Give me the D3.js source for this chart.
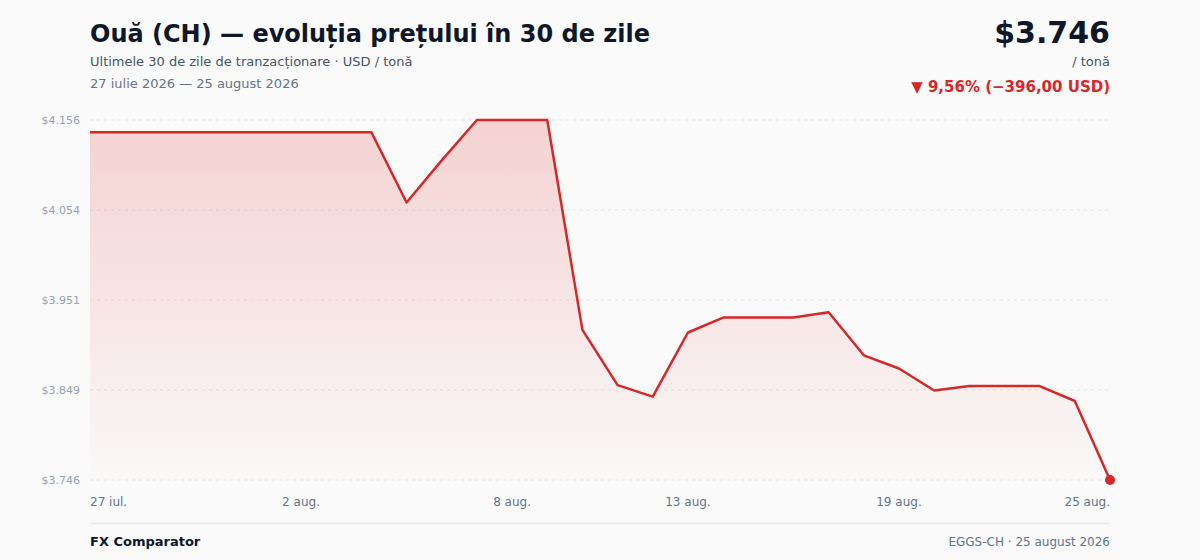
<!DOCTYPE html>
<html>
<head>
<meta charset="utf-8">
<script src="https://cdn.jsdelivr.net/npm/d3@7"></script>
<style>
  html, body { margin: 0; padding: 0; background: #fafafa; }
  svg { display: block; font-family: "DejaVu Sans", sans-serif; }
</style>
</head>
<body>
<svg id="chart" width="1200" height="560"></svg>
<script>
// 30 zile de tranzactionare, 27 iul - 25 aug 2026
var days = d3.range(30).map(function(i) { return new Date(2026, 6, 27 + i); });
var prices = [4142, 4142, 4142, 4142, 4142, 4142, 4142, 4142, 4142, 4062,
              4110, 4156, 4156, 4156, 3917, 3854, 3841, 3914, 3931, 3931,
              3931, 3937, 3888, 3873, 3848, 3853, 3853, 3853, 3836, 3746];
var yTicks = [3746, 3848.5, 3951, 4053.5, 4156];
var xTickIdx = [0, 6, 12, 17, 23, 29];
var luni = ["ian.", "feb.", "mar.", "apr.", "mai", "iun.", "iul.", "aug.", "sept.", "oct.", "nov.", "dec."];

var svg = d3.select("#chart");
var margin = { top: 120, right: 90, bottom: 80, left: 90 };
var width = 1200, height = 560;

var x = d3.scaleLinear().domain([0, days.length - 1]).range([margin.left, width - margin.right]);
var y = d3.scaleLinear().domain([3746, 4156]).range([height - margin.bottom, margin.top]);

var fmt = function(v) { return "$" + d3.format(",.0f")(v).replace(/,/g, "."); };

var defs = svg.append("defs");
var grad = defs.append("linearGradient")
    .attr("id", "areaGrad")
    .attr("x1", 0).attr("y1", 0).attr("x2", 0).attr("y2", 1);
grad.append("stop").attr("offset", "0%").attr("stop-color", "#e03131").attr("stop-opacity", 0.2);
grad.append("stop").attr("offset", "100%").attr("stop-color", "#e03131").attr("stop-opacity", 0.01);

// grid + y labels
var gy = svg.append("g");
gy.selectAll("line")
  .data(yTicks)
  .enter().append("line")
    .attr("x1", x(0)).attr("x2", x(days.length - 1))
    .attr("y1", function(d) { return y(d); })
    .attr("y2", function(d) { return y(d); })
    .attr("stroke", "#e2e4e8")
    .attr("stroke-width", 1)
    .attr("stroke-dasharray", "3,4");
gy.selectAll("text")
  .data(yTicks)
  .enter().append("text")
    .attr("x", 80)
    .attr("y", function(d) { return y(d); })
    .attr("dy", "0.35em")
    .attr("text-anchor", "end")
    .style("font-size", "11px")
    .style("fill", "#94a3b8")
    .text(function(d) { return fmt(d); });

// area + line
var area = d3.area()
    .x(function(d, i) { return x(i); })
    .y0(y(3746))
    .y1(function(d) { return y(d); });
var line = d3.line()
    .x(function(d, i) { return x(i); })
    .y(function(d) { return y(d); });

svg.append("path")
    .datum(prices)
    .attr("d", area)
    .attr("fill", "url(#areaGrad)");
svg.append("path")
    .datum(prices)
    .attr("d", line)
    .attr("fill", "none")
    .attr("stroke", "#d62828")
    .attr("stroke-width", 2.5)
    .attr("stroke-linejoin", "round");

var last = prices.length - 1;
svg.append("circle")
    .attr("cx", x(last))
    .attr("cy", y(prices[last]))
    .attr("r", 5)
    .attr("fill", "#d62828");

// x labels
svg.append("g").selectAll("text")
  .data(xTickIdx)
  .enter().append("text")
    .attr("x", function(d) { return x(d); })
    .attr("y", 506)
    .attr("text-anchor", function(d, i) { return i == 0 ? "start" : (i == xTickIdx.length - 1 ? "end" : "middle"); })
    .style("font-size", "12px")
    .style("fill", "#64748b")
    .text(function(d) { var dt = days[d]; return dt.getDate() + " " + luni[dt.getMonth()]; });

// header
svg.append("text")
    .attr("x", 90).attr("y", 42)
    .style("font-size", "24px").style("font-weight", "bold").style("fill", "#0f172a")
    .text("Ouă (CH) — evoluția prețului în 30 de zile");
svg.append("text")
    .attr("x", 90).attr("y", 66)
    .style("font-size", "13px").style("fill", "#475569")
    .text("Ultimele 30 de zile de tranzacționare · USD / tonă");
svg.append("text")
    .attr("x", 90).attr("y", 88)
    .style("font-size", "13px").style("fill", "#64748b")
    .text("27 iulie 2026 — 25 august 2026");

var first = prices[0], cur = prices[last];
var diff = cur - first, pct = diff / first * 100;
var roNum = function(v) { return d3.format(",.2f")(Math.abs(v)).replace(/,/g, " ").replace(".", ","); };

svg.append("text")
    .attr("x", 1110).attr("y", 43)
    .attr("text-anchor", "end")
    .style("font-size", "30px").style("font-weight", "bold").style("fill", "#0f172a")
    .text(fmt(cur));
svg.append("text")
    .attr("x", 1110).attr("y", 66)
    .attr("text-anchor", "end")
    .style("font-size", "13px").style("fill", "#475569")
    .text("/ tonă");
svg.append("text")
    .attr("x", 1110).attr("y", 92)
    .attr("text-anchor", "end")
    .style("font-size", "15px").style("font-weight", "bold").style("fill", "#d62828")
    .text("▼ " + roNum(pct) + "% (−" + roNum(diff) + " USD)");

// footer
svg.append("line")
    .attr("x1", 90).attr("x2", 1110)
    .attr("y1", 523.5).attr("y2", 523.5)
    .attr("stroke", "#e5e7eb").attr("stroke-width", 1.5);
svg.append("text")
    .attr("x", 90).attr("y", 546)
    .style("font-size", "13px").style("font-weight", "bold").style("fill", "#0f172a")
    .text("FX Comparator");
svg.append("text")
    .attr("x", 1110).attr("y", 546)
    .attr("text-anchor", "end")
    .style("font-size", "12px").style("fill", "#64748b")
    .text("EGGS-CH · 25 august 2026");
</script>
</body>
</html>
